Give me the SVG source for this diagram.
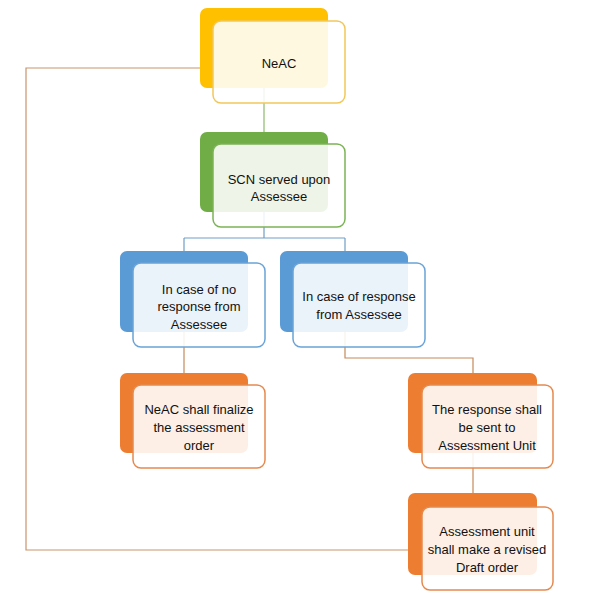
<svg xmlns="http://www.w3.org/2000/svg" width="591" height="600" viewBox="0 0 591 600">
<style>
.back{stroke:none}
.front{fill:#ffffff;fill-opacity:0.88;stroke-width:1.5}
.t{font-family:"Liberation Sans",Arial,sans-serif;font-size:13px;fill:#111111;text-anchor:middle}
.c{fill:none;stroke-width:1.2}
</style>
<rect width="591" height="600" fill="#ffffff"/>
<g id="connectors">
<path class="c" stroke="#c9956a" d="M408,550 H26 V68 H200"/>
<path class="c" stroke="#8dbb6a" d="M264,88 V144"/>
<path class="c" stroke="#6f9fc6" d="M264,212 V238 M184,238 H345 M184,238 V251 M345,238 V251"/>
<path class="c" stroke="#c58a5a" d="M184,332 V373"/>
<path class="c" stroke="#c58a5a" d="M345,332 V358 H473 V373"/>
<path class="c" stroke="#c58a5a" d="M473,453 V493"/>
</g>
<g id="n1">
<rect class="back" x="200" y="8" width="128" height="80" rx="7" fill="#ffc000"/>
<rect class="front" x="213" y="21" width="132" height="82" rx="8" stroke="#f2c75a"/>
<text class="t" x="279" y="68">NeAC</text>
</g>
<g id="n2">
<rect class="back" x="200" y="132" width="128" height="80" rx="7" fill="#70ad47"/>
<rect class="front" x="213" y="144" width="132" height="83" rx="8" stroke="#7cb356"/>
<text class="t" x="279" y="184">SCN served upon</text>
<text class="t" x="279" y="201">Assessee</text>
</g>
<g id="n3">
<rect class="back" x="120" y="251" width="128" height="81" rx="7" fill="#5b9bd5"/>
<rect class="front" x="133" y="263" width="132" height="84" rx="8" stroke="#6aa3d8"/>
<text class="t" x="199" y="294">In case of no</text>
<text class="t" x="199" y="311">response from</text>
<text class="t" x="199" y="329">Assessee</text>
</g>
<g id="n4">
<rect class="back" x="280" y="251" width="128" height="81" rx="7" fill="#5b9bd5"/>
<rect class="front" x="293" y="263" width="132" height="84" rx="8" stroke="#6aa3d8"/>
<text class="t" x="359" y="301">In case of response</text>
<text class="t" x="359" y="319">from Assessee</text>
</g>
<g id="n5">
<rect class="back" x="120" y="373" width="128" height="80" rx="7" fill="#ed7d31"/>
<rect class="front" x="133" y="385" width="132" height="83" rx="8" stroke="#e58a4e"/>
<text class="t" x="199" y="414">NeAC shall finalize</text>
<text class="t" x="199" y="432">the assessment</text>
<text class="t" x="199" y="450">order</text>
</g>
<g id="n6">
<rect class="back" x="408" y="373" width="129" height="80" rx="7" fill="#ed7d31"/>
<rect class="front" x="422" y="385" width="131" height="83" rx="8" stroke="#e58a4e"/>
<text class="t" x="487" y="414">The response shall</text>
<text class="t" x="487" y="432">be sent to</text>
<text class="t" x="487" y="450">Assessment Unit</text>
</g>
<g id="n7">
<rect class="back" x="408" y="493" width="129" height="82" rx="7" fill="#ed7d31"/>
<rect class="front" x="422" y="507" width="131" height="83" rx="8" stroke="#e58a4e"/>
<text class="t" x="487" y="536">Assessment unit</text>
<text class="t" x="487" y="554">shall make a revised</text>
<text class="t" x="487" y="572">Draft order</text>
</g>
</svg>
